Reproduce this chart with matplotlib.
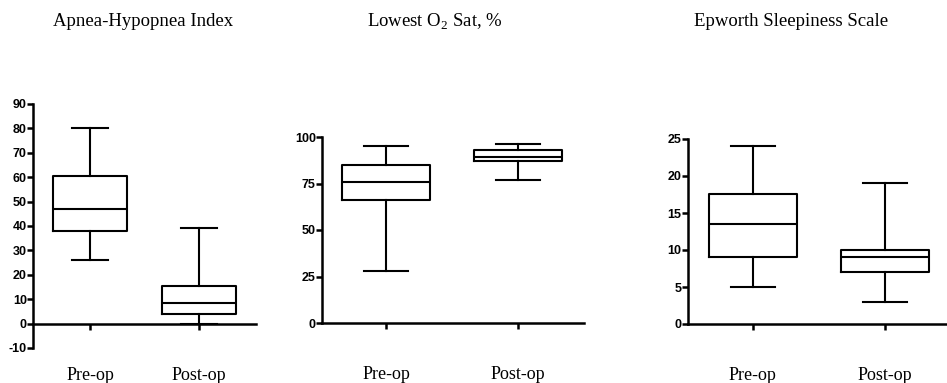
import matplotlib
matplotlib.use("Agg")
import matplotlib.pyplot as plt

plt.rcParams["mathtext.fontset"] = "custom"
plt.rcParams["mathtext.rm"] = "Liberation Serif"

# categories
groups = ["Pre-op", "Post-op"]

# box stats: lower whisker, Q1, median, Q3, upper whisker
ahi_pre = [26, 38, 47, 60.5, 80]
ahi_post = [0, 4, 8.5, 15.5, 39]
o2_pre = [28, 66, 76, 85, 95]
o2_post = [77, 87, 89, 93, 96]
ess_pre = [5, 9, 13.5, 17.5, 24]
ess_post = [3, 7, 9, 10, 19]

titles = ["Apnea-Hypopnea Index", "Lowest O$_\\mathrm{2}$ Sat, %", "Epworth Sleepiness Scale"]
yticks = [list(range(-10, 91, 10)), [0, 25, 50, 75, 100], [0, 5, 10, 15, 20, 25]]
ylims = [(-10, 90), (0, 100), (0, 25)]

W, H = 947, 383
fig = plt.figure(figsize=(W / 100, H / 100), dpi=100)

# axes boxes in pixels: left, top, right, bottom
boxes = [(33, 104, 256, 348), (322, 137, 584, 323), (688, 139, 947, 324)]
xlims = [(0.477, 2.523), (0.515, 2.5), (0.508, 2.47)]
title_x = [143, 435, 791]


def stats(v, name):
    return dict(whislo=v[0], q1=v[1], med=v[2], q3=v[3], whishi=v[4], label=name, fliers=[])


data = [(ahi_pre, ahi_post), (o2_pre, o2_post), (ess_pre, ess_post)]

for i in range(3):
    l, t, r, b = boxes[i]
    ax = fig.add_axes([l / W, 1 - b / H, (r - l) / W, (b - t) / H])
    if i == 0:
        ax.spines["bottom"].set_position(("data", 0))
    st = [stats(data[i][0], groups[0]), stats(data[i][1], groups[1])]
    lp = dict(color="black", linewidth=1.5)
    ax.bxp(st, positions=[1, 2], widths=0.67, capwidths=0.33, showfliers=False,
           boxprops=lp, whiskerprops=lp, capprops=lp, medianprops=lp)
    ax.set_xlim(*xlims[i])
    ax.set_ylim(*ylims[i])
    ax.set_yticks(yticks[i])
    ax.set_yticklabels([str(v) for v in yticks[i]], fontfamily="Liberation Sans",
                       fontweight="bold", fontsize=9)
    ax.set_xticks([1, 2])
    ax.set_xticklabels(groups, fontfamily="Liberation Serif", fontsize=13)
    ax.tick_params(axis="y", direction="out", length=4, width=1.8, pad=0.5)
    ax.tick_params(axis="x", direction="out", length=4, width=1.8, pad=27)
    for s in ["top", "right"]:
        ax.spines[s].set_visible(False)
    for s in ["left", "bottom"]:
        ax.spines[s].set_linewidth(1.8)
    ax.patch.set_visible(False)
    fig.text(title_x[i] / W, 1 - 22 / H, titles[i], ha="center", va="center",
             fontfamily="Liberation Serif", fontsize=13.5)

fig.savefig("out.png", dpi=100)
